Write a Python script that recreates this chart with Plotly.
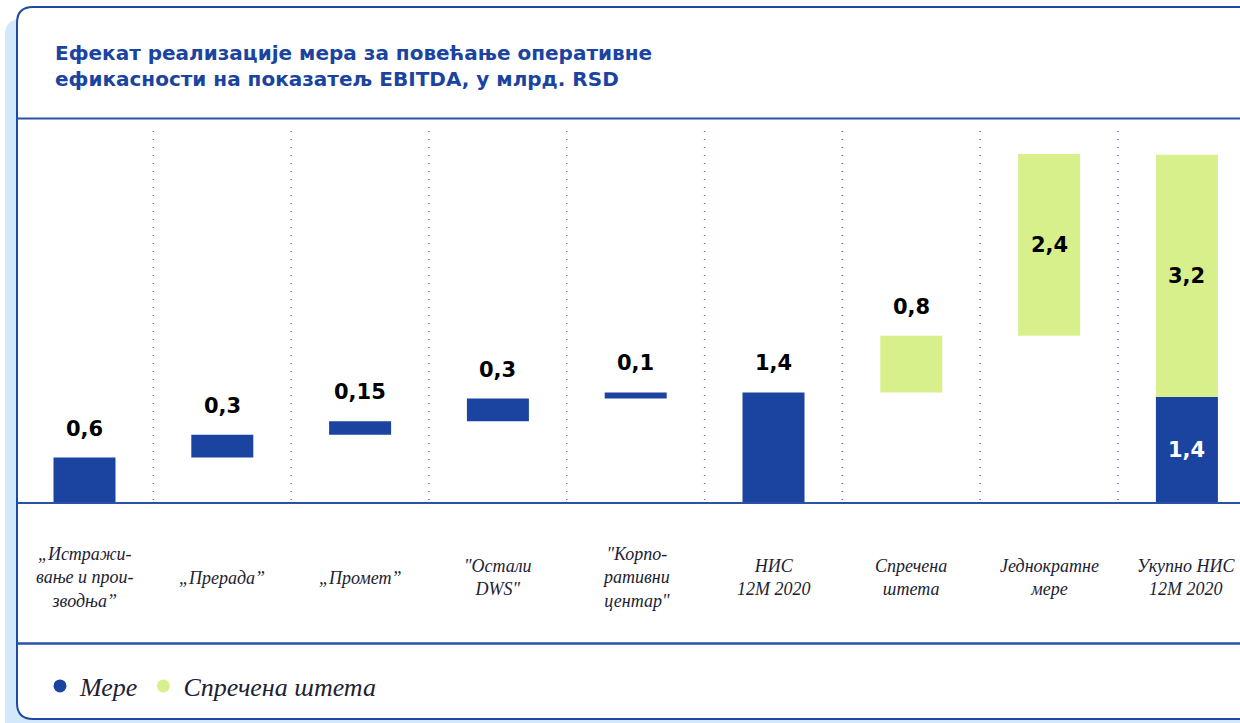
import plotly.graph_objects as go

W, H = 1240, 723

# data
categories = ["„Истражи-<br>вање и прои-<br>зводња”", "„Прерада”", "„Промет”", "\"Остали<br>DWS\"",
              "\"Корпо-<br>ративни<br>центар\"", "НИС<br>12М 2020", "Спречена<br>штета",
              "Једнократне<br>мере", "Укупно НИС<br>12М 2020"]
mere_steps = [0.6, 0.3, 0.18, 0.3, 0.08]
mere_labels = ["0,6", "0,3", "0,15", "0,3", "0,1"]
nis_total = 1.46
nis_label = "1,4"
steta_steps = [0.75, 2.4]
steta_labels = ["0,8", "2,4"]
total_mere = 1.4
total_steta = 3.2
total_labels = ["1,4", "3,2"]

BLUE = "#1a44a0"
GREEN = "#d8f08c"
LINE = "#2a52a8"
TXT = "#1a44a0"


def px(x):
    return x / W


def py(y):
    return 1 - y / H


def rrect(x0, y0, x1, y1, r):
    # rounded rectangle in pixel coords -> paper path
    pts = [
        f"M {px(x0 + r)},{py(y0)}",
        f"L {px(x1 - r)},{py(y0)}",
        f"Q {px(x1)},{py(y0)} {px(x1)},{py(y0 + r)}",
        f"L {px(x1)},{py(y1 - r)}",
        f"Q {px(x1)},{py(y1)} {px(x1 - r)},{py(y1)}",
        f"L {px(x0 + r)},{py(y1)}",
        f"Q {px(x0)},{py(y1)} {px(x0)},{py(y1 - r)}",
        f"L {px(x0)},{py(y0 + r)}",
        f"Q {px(x0)},{py(y0)} {px(x0 + r)},{py(y0)} Z",
    ]
    return " ".join(pts)


# waterfall bases
mere_x, mere_y, mere_base = [], [], []
acc = 0
for i, v in enumerate(mere_steps):
    mere_x.append(i)
    mere_y.append(v)
    mere_base.append(acc)
    acc += v
mere_x += [5, 8]
mere_y += [nis_total, total_mere]
mere_base += [0, 0]

steta_x, steta_y, steta_base = [], [], []
acc = nis_total
for i, v in enumerate(steta_steps):
    steta_x.append(6 + i)
    steta_y.append(v)
    steta_base.append(acc)
    acc += v
steta_x.append(8)
steta_y.append(total_steta)
steta_base.append(total_mere)

fig = go.Figure()
fig.add_trace(go.Bar(x=mere_x, y=mere_y, base=mere_base, width=0.45,
                     marker=dict(color=BLUE, line_width=0), showlegend=False, hoverinfo="skip"))
fig.add_trace(go.Bar(x=steta_x, y=steta_y, base=steta_base, width=0.45,
                     marker=dict(color=GREEN, line_width=0), showlegend=False, hoverinfo="skip"))

# legend entries
fig.add_trace(go.Scatter(x=[None], y=[None], mode="markers", name="Мере",
                         marker=dict(color=BLUE, size=13, symbol="circle")))
fig.add_trace(go.Scatter(x=[None], y=[None], mode="markers", name="Спречена штета",
                         marker=dict(color=GREEN, size=13, symbol="circle")))

# card background
shapes = [
    dict(type="path", xref="paper", yref="paper", path=rrect(5, 19, 1262, 740, 16),
         fillcolor="#d3e8fb", line=dict(width=0), layer="below"),
    dict(type="path", xref="paper", yref="paper", path=rrect(17, 7, 1262, 719, 16),
         fillcolor="white", line=dict(color="#1f4aa2", width=2), layer="below"),
]
for yy, w in [(118.5, 2), (643.5, 2.5)]:
    shapes.append(dict(type="line", xref="paper", yref="paper", x0=px(17), x1=1.0,
                       y0=py(yy), y1=py(yy), line=dict(color=LINE, width=w)))
shapes.append(dict(type="line", xref="paper", yref="y", x0=px(17), x1=1.0, y0=0, y1=0,
                   line=dict(color=LINE, width=2)))
for k in range(8):
    shapes.append(dict(type="line", xref="x", yref="paper", x0=k + 0.5, x1=k + 0.5,
                       y0=py(500), y1=py(124), line=dict(color="#4a6cc0", width=1.5, dash="1px,7px")))

annotations = [dict(xref="paper", yref="paper", x=px(53), y=py(39), xanchor="left", yanchor="top",
                    align="left", showarrow=False,
                    text="Ефекат реализације мера за повећање оперативне<br>ефикасности на показатељ EBITDA, у млрд. RSD",
                    font=dict(family="DejaVu Sans", size=20, color=TXT, weight=700))]

vfont = dict(family="DejaVu Sans", size=21, color="black", weight=700)
acc = 0
for i, v in enumerate(mere_steps):
    acc += v
    annotations.append(dict(x=i, y=acc, text=mere_labels[i], showarrow=False, yshift=29, font=vfont))
annotations.append(dict(x=5, y=nis_total, text=nis_label, showarrow=False, yshift=29, font=vfont))
annotations.append(dict(x=6, y=nis_total + steta_steps[0], text=steta_labels[0], showarrow=False,
                        yshift=29, font=vfont))
annotations.append(dict(x=7, y=nis_total + steta_steps[0] + steta_steps[1] / 2, text=steta_labels[1],
                        showarrow=False, font=vfont))
annotations.append(dict(x=8, y=total_mere + total_steta / 2, text=total_labels[1], showarrow=False, font=vfont))
annotations.append(dict(x=8, y=total_mere / 2, text=total_labels[0], showarrow=False,
                        font=dict(family="DejaVu Sans", size=21, color="white", weight=700)))

for i, c in enumerate(categories):
    annotations.append(dict(x=i, y=-0.99, text=c, showarrow=False, align="center",
                            font=dict(family="Liberation Serif", size=18, color="#1c2233", style="italic")))

fig.update_layout(
    width=W, height=H,
    margin=dict(l=0, r=0, t=0, b=0),
    paper_bgcolor="white", plot_bgcolor="rgba(0,0,0,0)",
    barmode="overlay",
    xaxis=dict(range=[-84.5 / 137.8, (W - 84.5) / 137.8], visible=False, fixedrange=True),
    yaxis=dict(range=[-220 / 75.7, 503 / 75.7], visible=False, fixedrange=True),
    shapes=shapes,
    annotations=annotations,
    legend=dict(orientation="h", x=px(40), y=py(686), xanchor="left", yanchor="middle",
                bgcolor="rgba(0,0,0,0)", itemwidth=30, tracegroupgap=0,
                font=dict(family="Liberation Serif", size=26, color="#1c2233", style="italic")),
)

fig.write_html("out.html", config=dict(displayModeBar=False),
               post_script="document.body.style.margin='0';document.body.style.overflow='hidden';")
